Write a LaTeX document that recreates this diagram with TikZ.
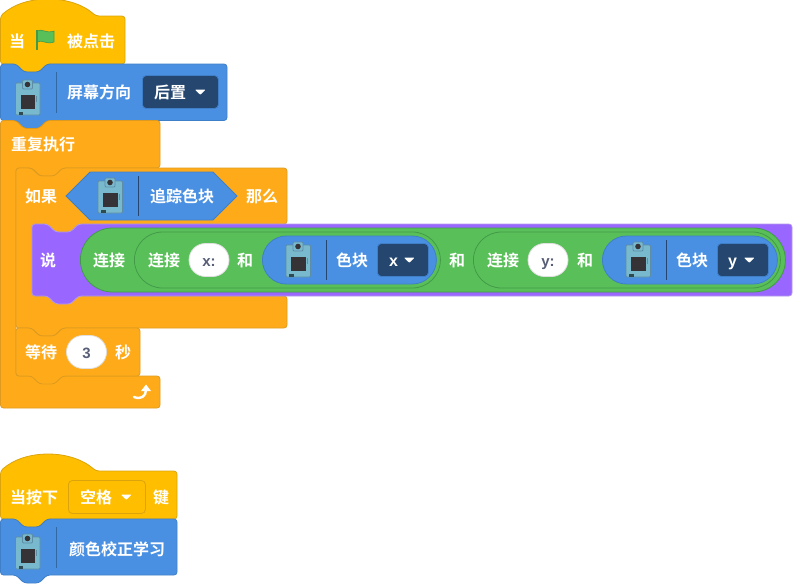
\documentclass[tikz,border=0pt]{standalone}
\usepackage{fontspec}
\setmainfont{Noto Sans CJK SC}[BoldFont={* Bold}]
\newfontfamily\latinbold{Liberation Sans Bold}
\usetikzlibrary{shapes.misc}
\definecolor{hatfill}{HTML}{FFBF00}
\definecolor{hatline}{HTML}{DBA40C}
\definecolor{ctrlfill}{HTML}{FFAB19}
\definecolor{ctrlline}{HTML}{DE9A1F}
\definecolor{camfill}{HTML}{4A90E2}
\definecolor{camline}{HTML}{3F7FC8}
\definecolor{camdark}{HTML}{24466F}
\definecolor{sayfill}{HTML}{9966FF}
\definecolor{sayline}{HTML}{B49AE8}
\definecolor{opfill}{HTML}{59C059}
\definecolor{opline}{HTML}{429A48}
\definecolor{inktext}{HTML}{575E75}
\definecolor{camicblue}{HTML}{79B9CE}
\definecolor{camicline}{HTML}{5E8EA6}
\definecolor{camscreen}{HTML}{353335}
\tikzset{
	hat/.style={fill=hatfill, draw=hatline, line width=0.8, rounded corners=3},
	ctrl/.style={fill=ctrlfill, draw=ctrlline, line width=0.8, rounded corners=3},
	cam/.style={fill=camfill, draw=camline, line width=0.8, rounded corners=3},
	say/.style={fill=sayfill, draw=sayline, line width=0.8, rounded corners=3},
	lbl/.style={text=white, font=\fontsize{16}{16}\selectfont\bfseries, inner sep=0pt, anchor=west, text height=14, text depth=2},
	pill/.style={rounded rectangle, inner sep=0pt, anchor=west, line width=0.8},
	oppill/.style={pill, fill=opfill, draw=opline},
	campill/.style={pill, fill=camfill, draw=camline},
	inputpill/.style={pill, fill=white, draw=black!12, minimum width=40, minimum height=33, anchor=center, text=inktext, font=\fontsize{15}{15}\latinbold, text height=12, text depth=0},
	menu/.style={rectangle, rounded corners=4, fill=camdark, draw=camline, line width=0.8, inner sep=0pt, anchor=west, minimum height=33},
	tri/.style={fill=white, draw=white, line width=1, line join=round},
	sep/.style={line width=1, draw=camline!60!camdark},
}
% block outline: style, left, top, right, bottom
\newcommand{\stackblock}[5]{
	\draw[#1] (#2,#3) -- (#2+15.5,#3) -- ++(8,8) -- ++(15,0) -- ++(8,-8) -- (#4,#3) -- (#4,#5)
		-- (#2+46.5,#5) -- ++(-8,8) -- ++(-15,0) -- ++(-8,-8) -- (#2,#5) -- cycle;
}
% hat outline: left, shoulder, right, bottom
\newcommand{\hatblock}[4]{
	\draw[hat] (#1,#2) .. controls (25,#2-22) and (71,#2-22) .. (96,#2) -- (#3,#2) -- (#3,#4)
		-- (#1+46.5,#4) -- ++(-8,8) -- ++(-15,0) -- ++(-8,-8) -- (#1,#4) -- cycle;
}
% camera icon by its top left corner
\tikzset{camicon/.pic={
	\draw[fill=camicblue, draw=camicline, line width=0.8, rounded corners=1] (0,2) rectangle (24.5,34);
	\draw[fill=camicblue, draw=camicline, line width=0.8, rounded corners=1] (7,-1) rectangle (17,8);
	\fill[camscreen] (12,3.5) circle (2.8);
	\fill[camscreen] (5,13.5) rectangle (19.5,27.5);
	\fill[black!60!camicblue] (3,31) rectangle (7.5,33.5);
	\fill[camicline] (20.5,15) rectangle (21.5,21);
}}
\newcommand{\droptri}[2]{\draw[tri] (#1,#2-2) -- (#1+8.5,#2-2) -- (#1+4.25,#2+2) -- cycle;}
\begin{document}
\begin{tikzpicture}[x=1pt, y=-1pt]
\useasboundingbox (0,0) rectangle (793,584);
% first stack
\hatblock{0.5}{16}{125}{64}
\stackblock{cam}{0.5}{64}{227}{120.5}
\draw[ctrl] (0.5,120.5) -- (16,120.5) -- ++(8,8) -- ++(15,0) -- ++(8,-8) -- (160,120.5) -- (160,168)
	-- (63,168) -- ++(-8,8) -- ++(-15,0) -- ++(-8,-8) -- (16,168) -- (16,376) -- (160,376) -- (160,408) -- (0.5,408) -- cycle;
\draw[ctrl] (16,168) -- (31.5,168) -- ++(8,8) -- ++(15,0) -- ++(8,-8) -- (287,168) -- (287,224)
	-- (78.5,224) -- ++(-8,8) -- ++(-15,0) -- ++(-8,-8) -- (32,224) -- (32,296) -- (287,296) -- (287,328)
	-- (62.5,328) -- ++(-8,8) -- ++(-15,0) -- ++(-8,-8) -- (16,328) -- cycle;
\stackblock{say}{32}{224}{792}{296}
\stackblock{ctrl}{16}{328}{140}{376}
% hat text
\node[lbl] (whenA) at (9,41) {当};
\draw[fill=opfill, draw=opline, line width=0.6] (37,31) .. controls (42,28) and (46,34) .. (54,31) -- (54,42) .. controls (46,45) and (42,39) .. (37,42) -- cycle;
\draw[opline, line width=1.6] (37,30) -- (37,50);
\node[lbl] (clicked) at (67,41) {被点击};
% screen direction
\pic at (15.5,81) {camicon};
\draw[sep] (56,72) -- (56,113);
\node[lbl] (direction) at (67,92) {屏幕方向};
\node[menu, minimum width=76] (dirMenu) at (142,92) {};
\node[lbl] (dirValue) at (154,92) {后置};
\droptri{196}{92}
% loop and condition
\node[lbl] (forever) at (11,144) {重复执行};
\node[lbl] (ifA) at (25,196) {如果};
\draw[fill=camfill, draw=camline, line width=0.8] (66,196) -- (90,172) -- (213,172) -- (237,196) -- (213,220) -- (90,220) -- cycle;
\pic at (98,179) {camicon};
\draw[sep, draw=camdark] (138,176) -- (138,216);
\node[lbl] (track) at (150,196) {追踪色块};
\node[lbl] (thenA) at (246,196) {那么};
% say and joins
\node[lbl] (sayA) at (40,260) {说};
\node[oppill, minimum width=705, minimum height=64] (joinOuter) at (80,260) {};
\node[oppill, minimum width=306, minimum height=56] (joinX) at (134,260) {};
\node[oppill, minimum width=307, minimum height=56] (joinY) at (473,260) {};
\node[campill, minimum width=174, minimum height=48] (blockX) at (262,260) {};
\node[campill, minimum width=175, minimum height=48] (blockY) at (602,260) {};
\node[lbl] (joinA) at (93,260) {连接};
\node[lbl] (joinB) at (148,260) {连接};
\node[inputpill] (inX) at (209,260) {x:};
\node[lbl] (andA) at (237,260) {和};
\pic at (286,243) {camicon};
\draw[sep, draw=camdark] (326,240) -- (326,280);
\node[lbl] (colorX) at (336,260) {色块};
\node[menu, minimum width=51] (menuX) at (377,260) {};
\node[lbl, font=\fontsize{16}{16}\latinbold] (valX) at (389,260) {x};
\droptri{405}{260}
\node[lbl] (andB) at (449,260) {和};
\node[lbl] (joinC) at (487,260) {连接};
\node[inputpill] (inY) at (548,260) {y:};
\node[lbl] (andC) at (577,260) {和};
\pic at (626,243) {camicon};
\draw[sep, draw=camdark] (666,240) -- (666,280);
\node[lbl] (colorY) at (676,260) {色块};
\node[menu, minimum width=51] (menuY) at (717,260) {};
\node[lbl, font=\fontsize{16}{16}\latinbold] (valY) at (728,260) {y};
\droptri{745}{260}
% wait
\node[lbl] (waitA) at (25,352) {等待};
\node[inputpill] (secs) at (86.5,352) {3};
\node[lbl] (secA) at (115,352) {秒};
\draw[white, line width=2.4, line cap=round] (134,397) .. controls (141,400) and (146,396) .. (146,390);
\fill[white] (141,391) -- (146,384.5) -- (151,391) -- cycle;
% second stack
\hatblock{0.5}{471}{177}{519}
\stackblock{cam}{0.5}{519}{177}{575}
\node[lbl] (whenB) at (10,497) {当按下};
\node[menu, minimum width=77, fill=hatfill, draw=hatline] (keyMenu) at (68,497) {};
\node[lbl] (keyValue) at (80,497) {空格};
\droptri{122}{497}
\node[lbl] (keyA) at (153,497) {键};
\pic at (15.5,535) {camicon};
\draw[sep] (56,527) -- (56,568);
\node[lbl] (learn) at (69,549) {颜色校正学习};
\end{tikzpicture}
\end{document}
